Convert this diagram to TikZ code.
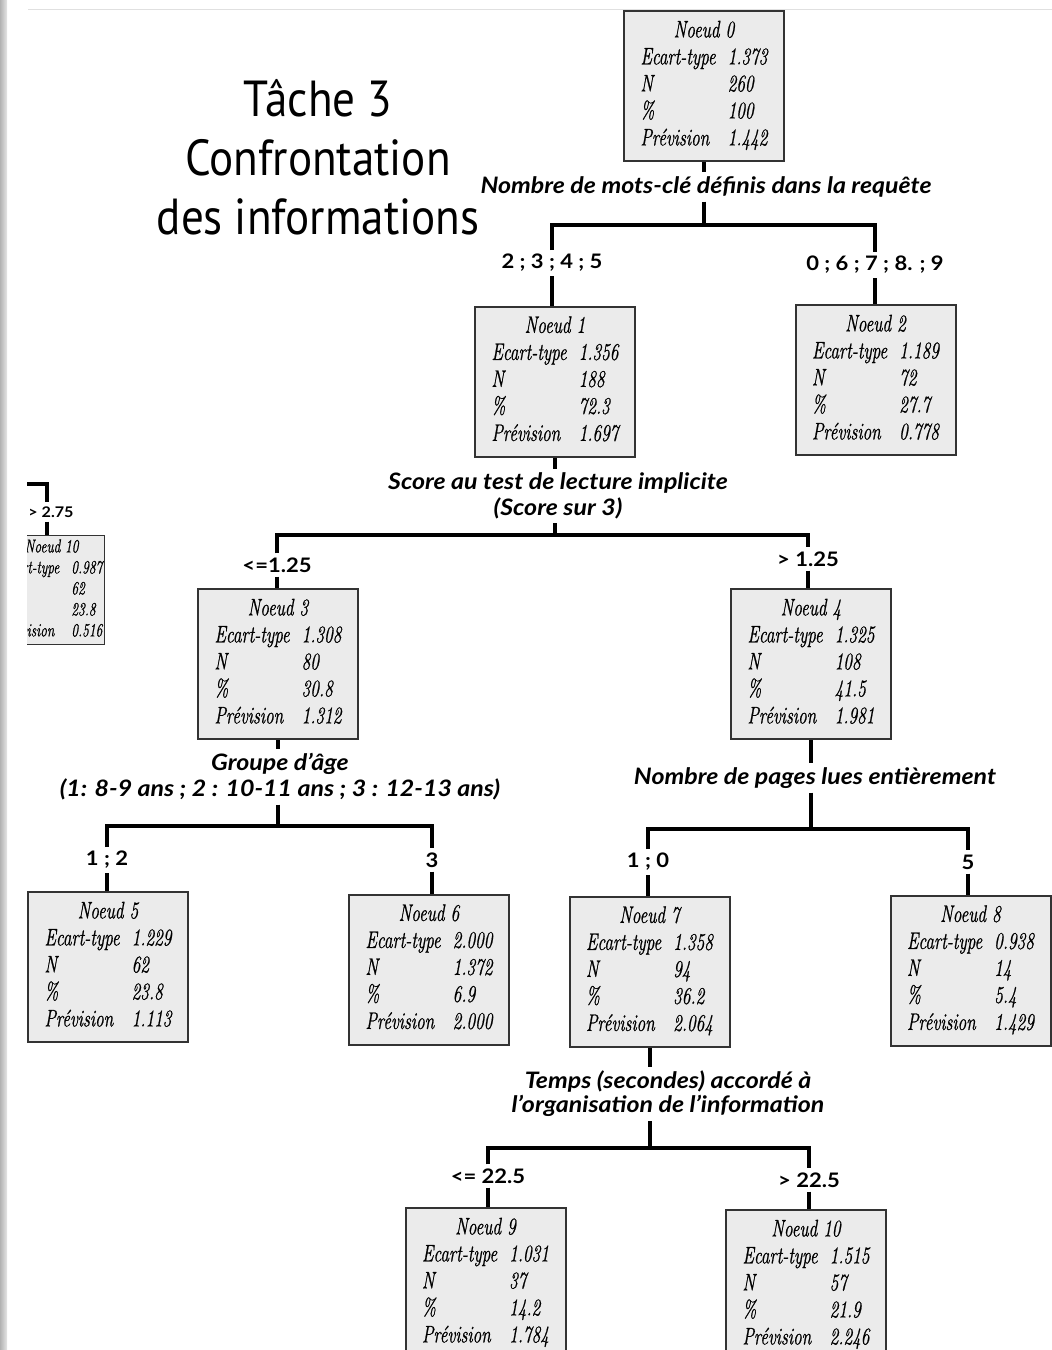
\documentclass[tikz,border=0pt]{standalone}
\usepackage{fontspec}
\usepackage{tikz}
\usetikzlibrary{positioning, calc}
\newfontfamily\boxfont[FakeStretch=0.72, FakeBold=0.8]{Latin Modern Roman}
\newfontfamily\lblfont[FakeStretch=1.1]{Lato}
\newfontfamily\titlefont[FakeStretch=0.89]{PT Sans}

% contents of one node of the tree
\newcommand{\noeud}[5]{%
  \begin{tabular}{@{}l@{\hspace{9pt}}l@{}}
    \multicolumn{2}{c}{Noeud #1}\\
    Ecart-type & #2\\
    N & #3\\
    \% & #4\\
    Prévision & #5
  \end{tabular}}

\begin{document}
\begin{tikzpicture}[x=0.75pt, y=-0.75pt,
    box/.style={draw=black!80, line width=1.5pt, fill=black!8,
      minimum width=120pt, minimum height=112.5pt, inner sep=3pt,
      font=\boxfont\itshape\fontsize{18}{20.25}\selectfont},
    mini/.style={line width=1pt, minimum width=0pt, minimum height=79.5pt, inner sep=1.5pt,
      font=\boxfont\itshape\fontsize{14}{15.75}\selectfont},
    question/.style={align=center, inner sep=3pt,
      font=\lblfont\bfseries\itshape\fontsize{17}{19.5}\selectfont},
    cut/.style={inner sep=3pt, font=\lblfont\bfseries\fontsize{15}{17}\selectfont},
    branch/.style={line width=3pt},
    title/.style={align=center, font=\titlefont\fontsize{38}{44.25}\selectfont}]

    \useasboundingbox (0,0) rectangle (1052,1350);
    \clip (0,0) rectangle (1052,1350);

    % page edge and top rule
    \fill[left color=black!30, right color=black!10] (0,0) rectangle (7,1350);
    \draw[black!12, line width=0.75pt] (28,9) -- (1052,9);

    % title
    \node[title] (ttl) at (318,157) {Tâche 3\\Confrontation\\des informations};

    % nodes of the tree
    \node[box] (n0) at (704,86) {\noeud{0}{1.373}{260}{100}{1.442}};
    \node[box] (n1) at (555,381.5) {\noeud{1}{1.356}{188}{72.3}{1.697}};
    \node[box] (n2) at (875.5,380) {\noeud{2}{1.189}{72}{27.7}{0.778}};
    \node[box] (n3) at (278,664) {\noeud{3}{1.308}{80}{30.8}{1.312}};
    \node[box] (n4) at (811,664) {\noeud{4}{1.325}{108}{41.5}{1.981}};
    \node[box] (n5) at (108,967) {\noeud{5}{1.229}{62}{23.8}{1.113}};
    \node[box] (n6) at (429,969.5) {\noeud{6}{2.000}{1.372}{6.9}{2.000}};
    \node[box] (n7) at (649.5,971.5) {\noeud{7}{1.358}{94}{36.2}{2.064}};
    \node[box] (n8) at (970.5,970.5) {\noeud{8}{0.938}{14}{5.4}{1.429}};
    \node[box] (n9) at (485.5,1283) {\noeud{9}{1.031}{37}{14.2}{1.784}};
    \node[box] (n10) at (806,1285) {\noeud{10}{1.515}{57}{21.9}{2.246}};

    % split variables
    \node[question] (q0) at (706,187) {Nombre de mots-clé définis dans la requête};
    \node[question] (q1) at (558,496) {Score au test de lecture implicite\\(Score sur 3)};
    \node[question] (q3) at (280,777) {Groupe d’âge\\(1: 8-9 ans ; 2 : 10-11 ans ; 3 : 12-13 ans)};
    \node[question] (q4) at (815,778) {Nombre de pages lues entièrement};
    \node[question, font=\lblfont\bfseries\itshape\fontsize{17}{18}\selectfont] (q7) at (668,1094)
        {Temps (secondes) accordé à\\l’organisation de l’information};

    % split values
    \node[cut] (a1) at (552,263) {2 ; 3 ; 4 ; 5};
    \node[cut] (b1) at (875,265) {0 ; 6 ; 7 ; 8. ; 9};
    \node[cut] (a3) at (277,565) {<=1.25};
    \node[cut] (b4) at (808,559) {> 1.25};
    \node[cut] (a5) at (107,860) {1 ; 2};
    \node[cut] (b6) at (432,860) {3};
    \node[cut] (a7) at (648,862) {1 ; 0};
    \node[cut] (b8) at (968,862) {5};
    \node[cut] (a9) at (488,1176) {<= 22.5};
    \node[cut] (b10) at (809,1180) {> 22.5};

    % junction points of the splits
    \coordinate (j0) at (n0.south |- 0,225);
    \coordinate (j1) at (n1.south |- 0,535);
    \coordinate (j3) at (n3.south |- 0,826);
    \coordinate (j4) at (n4.south |- 0,829);
    \coordinate (j7) at (n7.south |- 0,1148);

    % root split
    \draw[branch] (n0.south) -- (n0.south |- q0.north);
    \draw[branch] (n0.south |- q0.south) -- (j0);
    \draw[branch] (a1.north) |- (j0) -| (b1.north);
    \draw[branch] (a1.south) -- (a1.south |- n1.north);
    \draw[branch] (b1.south) -- (b1.south |- n2.north);

    % split of node 1
    \draw[branch] (n1.south) -- (n1.south |- q1.north);
    \draw[branch] (n1.south |- q1.south) -- (j1);
    \draw[branch] (a3.north) |- (j1) -| (b4.north);
    \draw[branch] (a3.south) -- (a3.south |- n3.north);
    \draw[branch] (b4.south) -- (b4.south |- n4.north);

    % split of node 3
    \draw[branch] (n3.south) -- (n3.south |- q3.north);
    \draw[branch] (n3.south |- q3.south) -- (j3);
    \draw[branch] (a5.north) |- (j3) -| (b6.north);
    \draw[branch] (a5.south) -- (a5.south |- n5.north);
    \draw[branch] (b6.south) -- (b6.south |- n6.north);

    % split of node 4
    \draw[branch] (n4.south) -- (n4.south |- q4.north);
    \draw[branch] (n4.south |- q4.south) -- (j4);
    \draw[branch] (a7.north) |- (j4) -| (b8.north);
    \draw[branch] (a7.south) -- (a7.south |- n7.north);
    \draw[branch] (b8.south) -- (b8.south |- n8.north);

    % split of node 7
    \draw[branch] (n7.south) -- (n7.south |- q7.north);
    \draw[branch] (n7.south |- q7.south) -- (j7);
    \draw[branch] (a9.north) |- (j7) -| (b10.north);
    \draw[branch] (a9.south) -- (a9.south |- n9.north);
    \draw[branch] (b10.south) -- (b10.south |- n10.north);

    % cut-off piece of another tree on the left
    \begin{scope}
      \clip (27,470) rectangle (120,660);
      \node[box, mini, anchor=north east] (p10) at (105,535) {\noeud{10}{0.987}{62}{23.8}{0.516}};
    \end{scope}
    \node[cut, font=\lblfont\bfseries\fontsize{11}{13}\selectfont] (c10) at (51,512) {> 2.75};
    \coordinate (k10) at (47,484);
    \draw[branch, line width=2.5pt] (27,484) -- (k10) -- (k10 |- c10.north);
    \draw[branch, line width=2.5pt] (k10 |- c10.south) -- (k10 |- p10.north);

\end{tikzpicture}
\end{document}
